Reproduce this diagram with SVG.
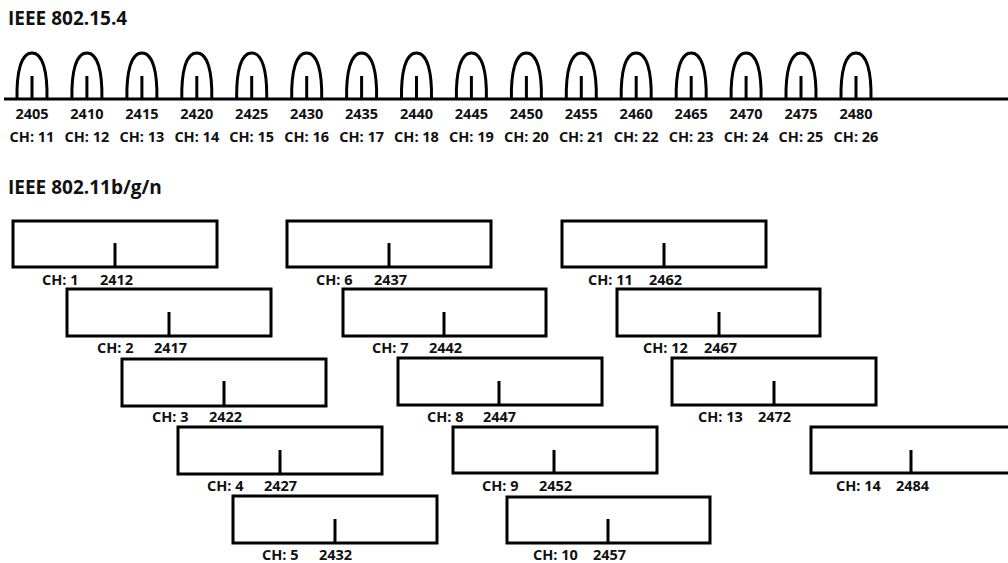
<svg xmlns="http://www.w3.org/2000/svg" width="1008" height="563" viewBox="0 0 1008 563">
<style>
text{font-family:"Open Sans","Liberation Sans",sans-serif;font-weight:700;fill:#111}
.t{font-size:19px}
.l{font-size:14.5px}
.m{text-anchor:middle}
.a{fill:none;stroke:#000;stroke-width:3}
.r{fill:#fff;stroke:#000;stroke-width:3}
.k{stroke:#000;stroke-width:3}
</style>
<defs>
<path id="arch" class="a" d="M-15,99 C-15.5,72 -11,53 0,53 C11,53 15.5,72 15,99 M0,76 L0,99"/>
</defs>
<rect width="1008" height="563" fill="#fff"/>
<text class="t" x="8" y="25">IEEE 802.15.4</text>
<text class="t" x="8" y="194">IEEE 802.11b/g/n</text>
<g id="connectors">
<line class="k" x1="4" y1="99" x2="1008" y2="99"/>
</g>
<g id="zigbee">
<g id="z11"><use href="#arch" x="32"/><text class="l m" x="32" y="119">2405</text><text class="l m" x="32" y="142">CH: 11</text></g>
<g id="z12"><use href="#arch" x="86.9"/><text class="l m" x="86.9" y="119">2410</text><text class="l m" x="86.9" y="142">CH: 12</text></g>
<g id="z13"><use href="#arch" x="141.9"/><text class="l m" x="141.9" y="119">2415</text><text class="l m" x="141.9" y="142">CH: 13</text></g>
<g id="z14"><use href="#arch" x="196.8"/><text class="l m" x="196.8" y="119">2420</text><text class="l m" x="196.8" y="142">CH: 14</text></g>
<g id="z15"><use href="#arch" x="251.7"/><text class="l m" x="251.7" y="119">2425</text><text class="l m" x="251.7" y="142">CH: 15</text></g>
<g id="z16"><use href="#arch" x="306.7"/><text class="l m" x="306.7" y="119">2430</text><text class="l m" x="306.7" y="142">CH: 16</text></g>
<g id="z17"><use href="#arch" x="361.6"/><text class="l m" x="361.6" y="119">2435</text><text class="l m" x="361.6" y="142">CH: 17</text></g>
<g id="z18"><use href="#arch" x="416.5"/><text class="l m" x="416.5" y="119">2440</text><text class="l m" x="416.5" y="142">CH: 18</text></g>
<g id="z19"><use href="#arch" x="471.4"/><text class="l m" x="471.4" y="119">2445</text><text class="l m" x="471.4" y="142">CH: 19</text></g>
<g id="z20"><use href="#arch" x="526.4"/><text class="l m" x="526.4" y="119">2450</text><text class="l m" x="526.4" y="142">CH: 20</text></g>
<g id="z21"><use href="#arch" x="581.3"/><text class="l m" x="581.3" y="119">2455</text><text class="l m" x="581.3" y="142">CH: 21</text></g>
<g id="z22"><use href="#arch" x="636.2"/><text class="l m" x="636.2" y="119">2460</text><text class="l m" x="636.2" y="142">CH: 22</text></g>
<g id="z23"><use href="#arch" x="691.2"/><text class="l m" x="691.2" y="119">2465</text><text class="l m" x="691.2" y="142">CH: 23</text></g>
<g id="z24"><use href="#arch" x="746.1"/><text class="l m" x="746.1" y="119">2470</text><text class="l m" x="746.1" y="142">CH: 24</text></g>
<g id="z25"><use href="#arch" x="801"/><text class="l m" x="801" y="119">2475</text><text class="l m" x="801" y="142">CH: 25</text></g>
<g id="z26"><use href="#arch" x="856"/><text class="l m" x="856" y="119">2480</text><text class="l m" x="856" y="142">CH: 26</text></g>
</g>
<g id="wifi">
<g id="w1"><rect class="r" x="13" y="221" width="204" height="46"/><line class="k" x1="115" y1="243" x2="115" y2="267"/><text class="l" x="42" y="285">CH: 1</text><text class="l" x="100" y="285">2412</text></g>
<g id="w2"><rect class="r" x="67" y="289" width="204" height="47"/><line class="k" x1="169" y1="312" x2="169" y2="336"/><text class="l" x="97" y="353">CH: 2</text><text class="l" x="154" y="353">2417</text></g>
<g id="w3"><rect class="r" x="122" y="359" width="204" height="47"/><line class="k" x1="224" y1="381" x2="224" y2="406"/><text class="l" x="152" y="422">CH: 3</text><text class="l" x="209" y="422">2422</text></g>
<g id="w4"><rect class="r" x="178" y="427" width="204" height="47"/><line class="k" x1="280" y1="450" x2="280" y2="474"/><text class="l" x="207" y="491">CH: 4</text><text class="l" x="264" y="491">2427</text></g>
<g id="w5"><rect class="r" x="233" y="496" width="204" height="47"/><line class="k" x1="335" y1="519" x2="335" y2="543"/><text class="l" x="262" y="560">CH: 5</text><text class="l" x="319" y="560">2432</text></g>
<g id="w6"><rect class="r" x="287" y="221" width="204" height="46"/><line class="k" x1="389" y1="243" x2="389" y2="267"/><text class="l" x="316" y="285">CH: 6</text><text class="l" x="374" y="285">2437</text></g>
<g id="w7"><rect class="r" x="343" y="289" width="203" height="47"/><line class="k" x1="444" y1="312" x2="444" y2="336"/><text class="l" x="372" y="353">CH: 7</text><text class="l" x="429" y="353">2442</text></g>
<g id="w8"><rect class="r" x="398" y="358" width="204" height="47"/><line class="k" x1="499" y1="381" x2="499" y2="405"/><text class="l" x="427" y="422">CH: 8</text><text class="l" x="483" y="422">2447</text></g>
<g id="w9"><rect class="r" x="453" y="427" width="204" height="46"/><line class="k" x1="554" y1="450" x2="554" y2="473"/><text class="l" x="482" y="491">CH: 9</text><text class="l" x="539" y="491">2452</text></g>
<g id="w10"><rect class="r" x="507" y="497" width="203" height="46"/><line class="k" x1="608" y1="519" x2="608" y2="543"/><text class="l" x="533" y="560">CH: 10</text><text class="l" x="593" y="560">2457</text></g>
<g id="w11"><rect class="r" x="562" y="221" width="204" height="46"/><line class="k" x1="664" y1="243" x2="664" y2="267"/><text class="l" x="588" y="285">CH: 11</text><text class="l" x="649" y="285">2462</text></g>
<g id="w12"><rect class="r" x="617" y="289" width="203" height="47"/><line class="k" x1="719" y1="312" x2="719" y2="336"/><text class="l" x="643" y="353">CH: 12</text><text class="l" x="704" y="353">2467</text></g>
<g id="w13"><rect class="r" x="672" y="358" width="204" height="47"/><line class="k" x1="774" y1="381" x2="774" y2="405"/><text class="l" x="698" y="422">CH: 13</text><text class="l" x="758" y="422">2472</text></g>
<g id="w14"><rect class="r" x="811" y="427" width="204" height="46"/><line class="k" x1="911" y1="450" x2="911" y2="473"/><text class="l" x="836" y="491">CH: 14</text><text class="l" x="896" y="491">2484</text></g>
</g>
</svg>
